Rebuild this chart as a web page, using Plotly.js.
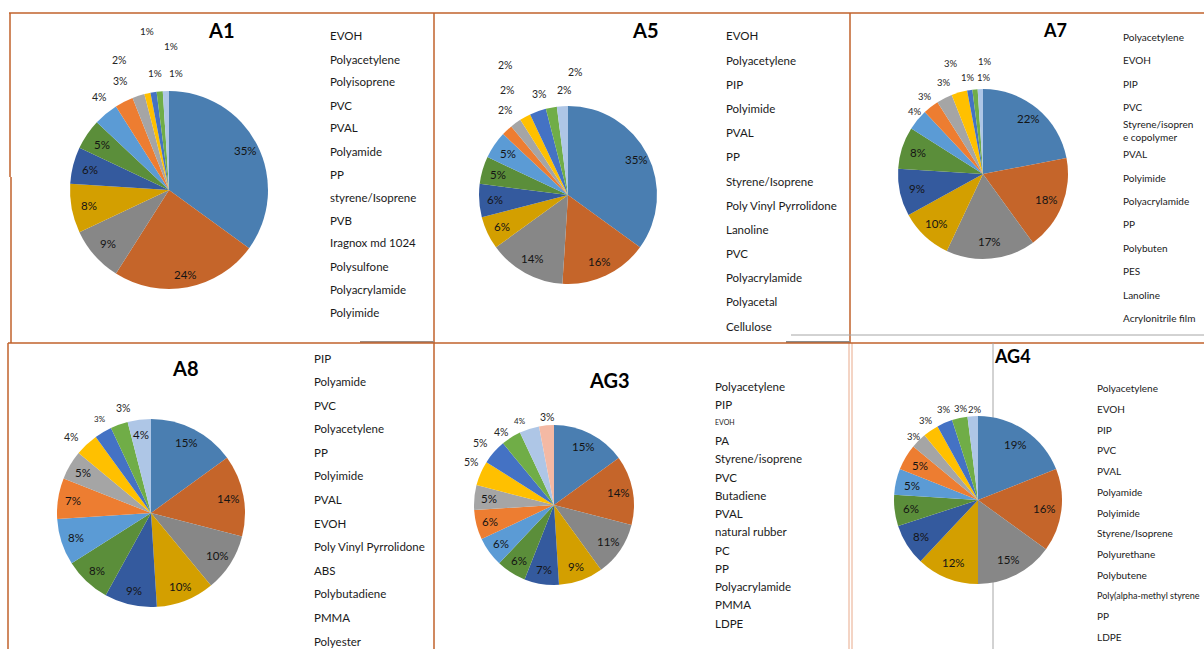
<!DOCTYPE html>
<html>
<head>
<meta charset="utf-8">
<script src="https://cdn.plot.ly/plotly-3.0.1.min.js"></script>
<style>html,body{margin:0;padding:0;background:#fff;}#chart{width:1204px;height:649px;}</style>
</head>
<body>
<div id="chart"></div>
<script>
// ---------------- DATA ----------------
const titles = ["A1", "A5", "A7", "A8", "AG3", "AG4"];

const a1Labels = ["EVOH", "Polyacetylene", "Polyisoprene", "PVC", "PVAL", "Polyamide", "PP", "styrene/Isoprene", "PVB", "Iragnox md 1024", "Polysulfone", "Polyacrylamide", "Polyimide"];
const a1Values = [35, 24, 9, 8, 6, 5, 4, 3, 2, 1, 1, 1, 1];

const a5Labels = ["EVOH", "Polyacetylene", "PIP", "Polyimide", "PVAL", "PP", "Styrene/Isoprene", "Poly Vinyl Pyrrolidone", "Lanoline", "PVC", "Polyacrylamide", "Polyacetal", "Cellulose"];
const a5Values = [35, 16, 14, 6, 6, 5, 5, 2, 2, 2, 3, 2, 2];

const a7Labels = ["Polyacetylene", "EVOH", "PIP", "PVC", "Styrene/isopren<br>e copolymer", "PVAL", "Polyimide", "Polyacrylamide", "PP", "Polybuten", "PES", "Lanoline", "Acrylonitrile film"];
const a7Values = [22, 18, 17, 10, 9, 8, 4, 3, 3, 3, 1, 1, 1];

const a8Labels = ["PIP", "Polyamide", "PVC", "Polyacetylene", "PP", "Polyimide", "PVAL", "EVOH", "Poly Vinyl Pyrrolidone", "ABS", "Polybutadiene", "PMMA", "Polyester"];
const a8Values = [15, 14, 10, 10, 9, 8, 8, 7, 5, 4, 3, 3, 4];

const ag3Labels = ["Polyacetylene", "PIP", "EVOH", "PA", "Styrene/isoprene", "PVC", "Butadiene", "PVAL", "natural rubber", "PC", "PP", "Polyacrylamide", "PMMA", "LDPE"];
const ag3Values = [15, 14, 11, 9, 7, 6, 6, 6, 5, 5, 5, 4, 4, 3];

const ag4Labels = ["Polyacetylene", "EVOH", "PIP", "PVC", "PVAL", "Polyamide", "Polyimide", "Styrene/Isoprene", "Polyurethane", "Polybutene", "Poly(alpha-methyl styrene", "PP", "LDPE"];
const ag4Values = [19, 16, 15, 12, 8, 6, 5, 5, 3, 3, 3, 3, 2];

// ---------------- STYLE / LAYOUT ----------------
const W = 1204, H = 649;
const fx = x => x / W;
const fy = y => 1 - y / H;
const FONT = "Lato, 'Open Sans', sans-serif";

const palette = ["#4A7EB1", "#C5652A", "#878787", "#D39F00", "#345A9E", "#5B8E3A",
                 "#5B9BD5", "#ED7D31", "#A5A5A5", "#FFC000", "#4472C4", "#70AD47",
                 "#AEC6E6", "#F4B9A4"];

// inFac: inside labels at this fraction of the radius
// outPos for outside labels: [distance from centre in px, angular nudge in degrees, font size]
const panels = [
  {labels: a1Labels, values: a1Values, cx: 169, cy: 190, r: 99, inFac: 0.82, tx: 222, ty: 30, tsize: 20,
   lx: 328, ly0: 36, ly1: 312, lsize: 11.5, outside: [6, 7, 8, 9, 10, 11, 12],
   outPos: [[116, 3, 10.5], [119, 3, 10.5], [139, -3, 10.5], [118, 6, 10], [161, 1, 10], [144, 6, 10], [117, 5, 10]]},
  {labels: a5Labels, values: a5Values, cx: 568, cy: 195, r: 89, inFac: 0.82, tx: 645, ty: 30, tsize: 20,
   lx: 724, ly0: 36, ly1: 326, lsize: 11.5, outside: [7, 8, 9, 10, 11, 12],
   outPos: [[105, 7, 10.5], [121, 6, 10.5], [144, 3, 10.5], [105, 4, 10.5], [105, 9, 10.5], [123, 7, 10.5]]},
  {labels: a7Labels, values: a7Values, cx: 983, cy: 174, r: 85, inFac: 0.8, tx: 1055, ty: 30, tsize: 18,
   lx: 1121, ly0: 37, ly1: 318, lsize: 10, outside: [6, 7, 8, 9, 10, 11, 12],
   outPos: [[93, 3, 9.5], [97, 1, 9.5], [99, 4, 9.5], [115, 0, 9.5], [98, 0, 9.5], [97, 6, 9.5], [113, 3, 9.5]]},
  {labels: a8Labels, values: a8Values, cx: 151, cy: 513, r: 94, inFac: 0.84, tx: 185, ty: 368, tsize: 20,
   lx: 312, ly0: 358, ly1: 641, lsize: 11.5, outside: [9, 10, 11],
   outPos: [[110, -3, 10.5], [107, 2, 8], [109, 5, 10.5]]},
  {labels: ag3Labels, values: ag3Values, cx: 554, cy: 505, r: 80, inFac: 0.82, tx: 609, ty: 380, tsize: 20,
   lx: 713, ly0: 386, ly1: 623, lsize: 11.5, outside: [9, 10, 11, 12, 13],
   outPos: [[93, 4, 10.5], [96, -1, 10.5], [90, -3, 10.5], [91, -4, 8], [88, 1, 10.5]]},
  {labels: ag4Labels, values: ag4Values, cx: 978, cy: 500, r: 84, inFac: 0.8, tx: 1012, ty: 356, tsize: 18,
   lx: 1095, ly0: 388, ly1: 637, lsize: 10, outside: [8, 9, 10, 11, 12],
   outPos: [[90, 0, 9.5], [95, 1, 9.5], [97, 3, 9.5], [93, 2, 9.5], [91, 2, 9.5]]}
];

const traces = panels.map(p => ({
  type: "pie",
  labels: p.labels,
  values: p.values,
  sort: false,
  direction: "clockwise",
  rotation: 0,
  hole: 0,
  marker: {colors: palette.slice(0, p.values.length), line: {width: 0}},
  textinfo: "none",
  showlegend: false,
  hoverinfo: "label+percent",
  domain: {x: [fx(p.cx - p.r), fx(p.cx + p.r)], y: [fy(p.cy + p.r), fy(p.cy - p.r)]}
}));

const annotations = [];
panels.forEach((p, k) => {
  // chart title
  annotations.push({
    xref: "paper", yref: "paper", x: fx(p.tx), y: fy(p.ty), xanchor: "center", yanchor: "middle",
    text: "<b>" + titles[k] + "</b>", showarrow: false, font: {family: FONT, size: p.tsize, color: "#000"}
  });
  // category list (the legend has no swatches)
  const n = p.labels.length;
  const step = (p.ly1 - p.ly0) / (n - 1);
  p.labels.forEach((lab, i) => {
    let size = p.lsize;
    if (k === 4 && lab === "EVOH") size = 7;
    if (k === 5 && i === 10) size = 9;
    annotations.push({
      xref: "paper", yref: "paper", x: fx(p.lx), y: fy(p.ly0 + step * i), xanchor: "left", yanchor: "middle",
      align: "left", text: lab, showarrow: false,
      font: {family: FONT, size: size, color: "#1a1a1a"}
    });
  });
  // percentage labels at each slice's mid-angle, computed from the values
  const total = p.values.reduce((a, b) => a + b, 0);
  let cum = 0;
  const mids = p.values.map(v => { const m = (cum + v / 2) / total * 360; cum += v; return m; });
  p.values.forEach((v, idx) => {
    const j = p.outside.indexOf(idx);
    let R, dA, fs, col;
    if (j >= 0) { [R, dA, fs] = p.outPos[j]; col = "#262626"; }
    else { R = p.r * p.inFac * (v >= 20 ? 1.06 : 1); dA = 0; fs = 11.5; col = "#141414"; }
    const th = (mids[idx] + dA) * Math.PI / 180;
    const x = p.cx + R * Math.sin(th);
    const y = p.cy - R * Math.cos(th);
    annotations.push({
      xref: "paper", yref: "paper", x: fx(x), y: fy(y), xanchor: "center", yanchor: "middle",
      text: v + "%", showarrow: false,
      font: {family: FONT, size: fs, color: col}
    });
  });
});

const ORANGE = "#C0622B";
const GRAY = "#A6A6A6";
function line(x0, y0, x1, y1, color, width) {
  return {type: "line", xref: "paper", yref: "paper", layer: "below", x0: fx(x0), y0: fy(y0), x1: fx(x1), y1: fy(y1),
          line: {color: color, width: width}};
}
const shapes = [
  line(9, 13, 1204, 13, ORANGE, 1.5),
  line(10, 13, 10, 177, ORANGE, 1.5),
  line(11, 177, 11, 343, ORANGE, 1.5),
  line(434, 13, 434, 649, ORANGE, 1.5),
  line(850, 13, 850, 343, ORANGE, 1.5),
  line(849, 343, 849, 649, "#E8A98A", 1),
  line(852, 343, 852, 649, "#E8A98A", 1),
  line(791, 335, 1204, 335, GRAY, 1),
  line(786, 342, 850, 342, "#8C8C8C", 2),
  line(360, 342, 434, 342, "#9E8C82", 2),
  line(8, 343, 1204, 343, ORANGE, 1.5),
  line(8, 343, 8, 649, ORANGE, 1.5),
  line(993, 343, 993, 649, GRAY, 1)
];

const layout = {
  width: W, height: H,
  margin: {l: 0, r: 0, t: 0, b: 0},
  paper_bgcolor: "#ffffff",
  plot_bgcolor: "#ffffff",
  font: {family: FONT, size: 11, color: "#1a1a1a"},
  showlegend: false,
  annotations: annotations,
  shapes: shapes
};

Plotly.newPlot("chart", traces, layout, {displayModeBar: false, staticPlot: true});
</script>
</body>
</html>
